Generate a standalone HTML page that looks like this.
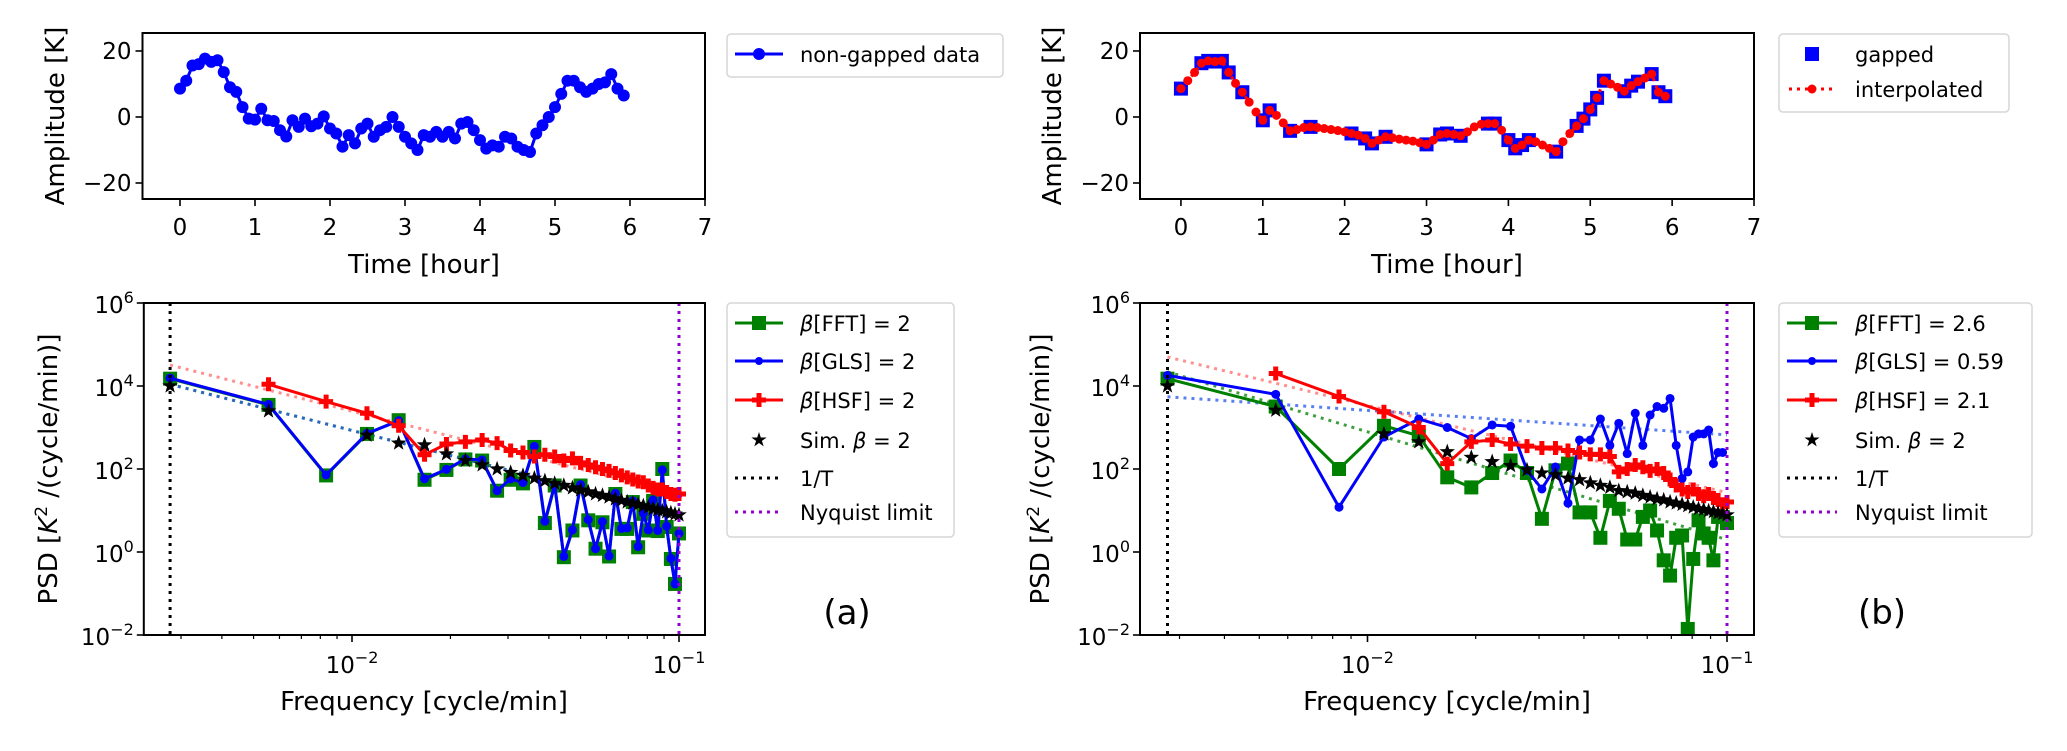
<!DOCTYPE html>
<html><head><meta charset="utf-8"><title>PSD comparison</title>
<style>
html,body{margin:0;padding:0;background:#fff;}
svg{display:block;font-family:"DejaVu Sans","Liberation Sans",sans-serif;}
.tk{font-size:23px;fill:#000;}
.lab{font-size:26px;fill:#000;}
.lg{font-size:21px;fill:#000;}
</style></head>
<body>
<svg id="fig" width="2067" height="751" viewBox="0 0 2067 751" xmlns="http://www.w3.org/2000/svg">
<rect x="0" y="0" width="2067" height="751" fill="#fff"/>
<g id="marks"></g>
<rect x="142.5" y="33" width="562.5" height="166" fill="none" stroke="#000" stroke-width="2"/>
<rect x="1140" y="33" width="614" height="166" fill="none" stroke="#000" stroke-width="2"/>
<rect x="143.8" y="303" width="561.2" height="332" fill="none" stroke="#000" stroke-width="2"/>
<rect x="1140" y="303" width="614" height="332" fill="none" stroke="#000" stroke-width="2"/>
<g id="ticks"></g>
<text class="lab" x="424" y="273" text-anchor="middle">Time [hour]</text>
<text class="lab" x="1447" y="273" text-anchor="middle">Time [hour]</text>
<text class="lab" x="424" y="710" text-anchor="middle">Frequency [cycle/min]</text>
<text class="lab" x="1447" y="710" text-anchor="middle">Frequency [cycle/min]</text>
<text class="lab" transform="translate(64,116) rotate(-90)" text-anchor="middle">Amplitude [K]</text>
<text class="lab" transform="translate(1061,116) rotate(-90)" text-anchor="middle">Amplitude [K]</text>
<text class="lab" transform="translate(57,469) rotate(-90)" text-anchor="middle">PSD [<tspan font-style="italic">K</tspan><tspan font-size="17" dy="-10">2</tspan><tspan dy="10"> /(cycle/min)]</tspan></text>
<text class="lab" transform="translate(1049,469) rotate(-90)" text-anchor="middle">PSD [<tspan font-style="italic">K</tspan><tspan font-size="17" dy="-10">2</tspan><tspan dy="10"> /(cycle/min)]</tspan></text>
<text x="847" y="624" font-size="34" text-anchor="middle">(a)</text>
<text x="1882" y="624" font-size="34" text-anchor="middle">(b)</text>

<g>
<rect x="727" y="34" width="276" height="43" rx="4" fill="#fff" stroke="#d6d6d6" stroke-width="1.5"/>
<g>
<line x1="735" y1="54" x2="783" y2="54" stroke="#0000ff" stroke-width="3"/><circle cx="759" cy="54" r="6" fill="#0000ff"/>
<text class="lg" x="800" y="62">non-gapped data</text></g>
</g>
<g>
<rect x="1779" y="34" width="230" height="78" rx="4" fill="#fff" stroke="#d6d6d6" stroke-width="1.5"/>
<g><rect x="1805" y="47" width="14" height="14" fill="#0000ff"/><text class="lg" x="1855" y="62">gapped</text></g>
<g><line x1="1789" y1="89" x2="1835" y2="89" stroke="#ff0000" stroke-width="3" stroke-dasharray="3 5"/><circle cx="1812" cy="89" r="4.5" fill="#ff0000"/><text class="lg" x="1855" y="97">interpolated</text></g>
</g>
<g>
<rect x="727" y="303" width="227" height="234" rx="4" fill="#fff" stroke="#d6d6d6" stroke-width="1.5"/>
<g><line x1="735" y1="323" x2="783" y2="323" stroke="#008000" stroke-width="3"/><rect x="752" y="316" width="14" height="14" fill="#008000"/><text class="lg" x="800" y="331"><tspan font-style="italic">β</tspan>[FFT] = 2</text></g>
<g><line x1="735" y1="361" x2="783" y2="361" stroke="#0000ff" stroke-width="3"/><circle cx="759" cy="361" r="4" fill="#0000ff"/><text class="lg" x="800" y="369"><tspan font-style="italic">β</tspan>[GLS] = 2</text></g>
<g><line x1="735" y1="400" x2="783" y2="400" stroke="#ff0000" stroke-width="3"/><path d="M756.5,393h5v4.5h4.5v5h-4.5v4.5h-5v-4.5h-4.5v-5h4.5z" fill="#ff0000"/><text class="lg" x="800" y="408"><tspan font-style="italic">β</tspan>[HSF] = 2</text></g>
<g><path d="M759,432 L760.8,437.5 L766.6,437.5 L761.9,440.9 L763.7,446.4 L759,443 L754.3,446.4 L756.1,440.9 L751.4,437.5 L757.2,437.5Z" fill="#000"/><text class="lg" x="800" y="448">Sim. <tspan font-style="italic">β</tspan> = 2</text></g>
<g><line x1="735" y1="478" x2="783" y2="478" stroke="#000" stroke-width="3" stroke-dasharray="3 5"/><text class="lg" x="800" y="486">1/T</text></g>
<g><line x1="735" y1="512" x2="783" y2="512" stroke="#9400d3" stroke-width="3" stroke-dasharray="3 5"/><text class="lg" x="800" y="520">Nyquist limit</text></g>
</g>
<g>
<rect x="1779" y="303" width="253" height="234" rx="4" fill="#fff" stroke="#d6d6d6" stroke-width="1.5"/>
<g><line x1="1787" y1="323" x2="1837" y2="323" stroke="#008000" stroke-width="3"/><rect x="1805" y="316" width="14" height="14" fill="#008000"/><text class="lg" x="1855" y="331"><tspan font-style="italic">β</tspan>[FFT] = 2.6</text></g>
<g><line x1="1787" y1="361" x2="1837" y2="361" stroke="#0000ff" stroke-width="3"/><circle cx="1812" cy="361" r="4" fill="#0000ff"/><text class="lg" x="1855" y="369"><tspan font-style="italic">β</tspan>[GLS] = 0.59</text></g>
<g><line x1="1787" y1="400" x2="1837" y2="400" stroke="#ff0000" stroke-width="3"/><path d="M1809.5,393h5v4.5h4.5v5h-4.5v4.5h-5v-4.5h-4.5v-5h4.5z" fill="#ff0000"/><text class="lg" x="1855" y="408"><tspan font-style="italic">β</tspan>[HSF] = 2.1</text></g>
<g><path d="M1812,432 L1813.8,437.5 L1819.6,437.5 L1814.9,440.9 L1816.7,446.4 L1812,443 L1807.3,446.4 L1809.1,440.9 L1804.4,437.5 L1810.2,437.5Z" fill="#000"/><text class="lg" x="1855" y="448">Sim. <tspan font-style="italic">β</tspan> = 2</text></g>
<g><line x1="1787" y1="478" x2="1837" y2="478" stroke="#000" stroke-width="3" stroke-dasharray="3 5"/><text class="lg" x="1855" y="486">1/T</text></g>
<g><line x1="1787" y1="512" x2="1837" y2="512" stroke="#9400d3" stroke-width="3" stroke-dasharray="3 5"/><text class="lg" x="1855" y="520">Nyquist limit</text></g>
</g>
</svg>
<script>
// ---------- data ----------
const sampleMinutes = 5;
const ampNonGapped = [8.6,11,15.6,16,17.7,16.7,17.2,13.6,9,7.6,3,-0.5,-0.8,2.5,-1,-1.2,-4,-5.9,-1,-3,-0.5,-2.8,-2,0.2,-3.5,-5,-9,-5.5,-8,-3.5,-2,-6,-4,-3,0,-3,-6,-8,-10,-5.5,-6,-4.5,-6,-4.5,-6.5,-2,-1.5,-4,-7,-9.6,-8.6,-9,-6,-6.5,-9,-10,-10.6,-5,-2.5,0,3,7,11,11,9,7.6,8.6,10,10.5,13,8.6,6.5];
const ampGapped = [8.6,null,null,16.3,17,16.8,17,13.5,null,7.5,null,null,-1,2,null,null,-4.2,null,null,-3,null,null,null,null,null,-5,null,-6.5,-8,null,-6,null,null,null,null,null,-8.3,null,-5.3,-5,null,-5.7,null,null,null,-2,-2,null,-7,-9.5,-8.5,-7,null,null,null,-10.5,null,null,-2.7,-0.5,2.3,5.8,11,null,null,7.8,9.5,10.7,null,13,7.5,6.3];
const ampInterp = [8.6,11,13.5,16.3,17,16.8,17,13.5,10.2,7.5,4.5,1.5,-1,2,0.5,-1.8,-4.2,-3.8,-3.2,-3,-3.2,-3.5,-3.8,-4.1,-4.5,-5,-5.5,-6.5,-8,-7,-6,-6.3,-6.7,-7,-7.3,-7.8,-8.3,-7,-5.3,-5,-5.3,-5.7,-4.5,-3,-2.2,-2,-2,-4,-7,-9.5,-8.5,-7,-7.5,-8.5,-9.5,-10.5,-7.5,-5,-2.7,-0.5,2.3,5.8,11,10,9,7.8,9.5,10.7,11.8,13,7.5,6.3];
const timeTicks = [0,1,2,3,4,5,6,7];
const ampTicks = [-20,0,20];

const periodMinutes = 360;
const harmonic = [1,2,3,4,5,6,7,8,9,10,11,12,13,14,15,16,17,18,19,20,21,22,23,24,25,26,27,28,29,30,31,32,33,34,35,36];
const fftA = [15000,3500,70,700,1500,55,95,170,160,30,55,45,340,5,40,0.75,3.3,40,5.8,1.2,5.2,0.78,25,3.6,3.6,16,1.3,8.3,3.3,17,3.2,100,4,0.68,0.17,2.8];
const glsA = [15500,3600,72,720,1450,58,98,175,165,30,58,47,350,5.5,42,0.78,3.4,42,6,1.2,5.4,0.8,26,3.7,3.8,17,1.35,8.6,3.4,18,3.3,95,4.2,0.7,0.17,2.8];
const hsfA = [null,11000,4200,2200,1100,220,400,450,500,420,280,250,200,220,200,160,180,140,125,110,100,90,80,70,63,56,50,48,40,35,32,32,28,25,24,25];
const simA = [10000,2500,null,650,420,380,230,160,125,100,82,70,60,52,45,40,35,31,28,25,23,21,19,17.5,16,15,14,13,12,11,10.4,9.8,9.2,8.7,8.2,7.8];
const fftB = [15000,3200,100,1100,630,63,36,80,160,80,6.3,93,135,9,9,2.2,17,11,2,2,7,10,3.3,0.63,0.27,2.2,2.5,0.014,0.68,5.8,2.8,2.2,0.63,7,7,5];
const glsB = [18000,6300,12,590,1600,1000,540,1150,1070,93,33,112,15,500,500,1600,370,1260,234,2200,370,2000,3200,2900,5000,370,59,85,590,700,700,870,135,250,250,null];
const hsfB = [null,20000,5600,2400,1000,135,450,500,400,355,320,320,280,250,225,225,200,85,100,125,110,90,100,80,56,40,32,28,32,25,22,25,20,18,14,16];
const simB = [10000,2600,null,700,450,260,190,150,120,95,80,72,60,55,46,40,36,30,28,26,23,21,19,18,16,15,14,13,12,11,10.5,9.8,9.3,8.7,8.3,7.8];
const fitAmpA = [11000,11000,32000];
const fitBetaA = [2,2,2];
const fitAmpB = [22000,5500,50000];
const fitBetaB = [2.6,0.59,2.1];
const psdTicks = [-2,0,2,4,6];
const freqDecades = [-2,-1];
const minorMult = [2,3,4,5,6,7,8,9];

// ---------- setup ----------
const NS = 'http://www.w3.org/2000/svg';
const marks = document.getElementById('marks');
const tickG = document.getElementById('ticks');
function mk(tag, attrs, parent) {
  const e = document.createElementNS(NS, tag);
  for (const k in attrs) e.setAttribute(k, attrs[k]);
  (parent || marks).appendChild(e);
  return e;
}
function linAxis(d0, d1, p0, p1) { return v => p0 + (v - d0) / (d1 - d0) * (p1 - p0); }
function logAxis(d0, d1, p0, p1) { return v => p0 + (Math.log10(v) - d0) / (d1 - d0) * (p1 - p0); }

const axTA = {x: linAxis(-0.5, 7, 142.5, 705), y: linAxis(25.45, -24.85, 33, 199), x0:142.5, x1:705, y0:33, y1:199};
const axTB = {x: linAxis(-0.5, 7, 1140, 1754), y: linAxis(25.45, -24.85, 33, 199), x0:1140, x1:1754, y0:33, y1:199};
const axBA = {x: logAxis(-2.6367, -0.9205, 143.8, 705), y: logAxis(6, -2, 303, 635), x0:143.8, x1:705, y0:303, y1:635};
const axBB = {x: logAxis(-2.6328, -0.9249, 1140, 1754), y: logAxis(6, -2, 303, 635), x0:1140, x1:1754, y0:303, y1:635};

function clipFor(ax, id) {
  const cp = mk('clipPath', {id: id});
  mk('rect', {x: ax.x0, y: ax.y0, width: ax.x1 - ax.x0, height: ax.y1 - ax.y0}, cp);
  return 'url(#' + id + ')';
}
function polyPts(xs, ys, ax) {
  const pts = [];
  for (let i = 0; i < xs.length; i++) if (ys[i] !== null && ys[i] !== undefined) pts.push(ax.x(xs[i]).toFixed(1) + ',' + ax.y(ys[i]).toFixed(1));
  return pts.join(' ');
}
function square(g, cx, cy, s, fill) { return mk('rect', {x: cx - s/2, y: cy - s/2, width: s, height: s, fill: fill}, g); }
function plusP(g, cx, cy, fill) {
  const a = 2.5, b = 7;
  return mk('path', {d: `M${cx-a},${cy-b}h${2*a}v${b-a}h${b-a}v${2*a}h${-(b-a)}v${b-a}h${-2*a}v${-(b-a)}h${-(b-a)}v${-2*a}h${b-a}z`, fill: fill}, g);
}
function star(g, cx, cy, fill) {
  const pts = [];
  for (let i = 0; i < 10; i++) {
    const r = i % 2 ? 3.3 : 8.2, an = -Math.PI/2 + i * Math.PI / 5;
    pts.push((cx + r*Math.cos(an)).toFixed(1) + ',' + (cy + r*Math.sin(an)).toFixed(1));
  }
  return mk('polygon', {points: pts.join(' '), fill: fill}, g);
}

// ---------- top panel (a) ----------
const timeA = ampNonGapped.map((v, i) => i * sampleMinutes / 60);
const cTA = clipFor(axTA, 'clipTA');
const gTA = mk('g', {'clip-path': cTA});


mk('polyline', {points: polyPts(timeA, ampNonGapped, axTA), fill: 'none', stroke: '#0000ff', 'stroke-width': 3}, gTA);
ampNonGapped.forEach((v, i) => {
  const c = mk('circle', {cx: axTA.x(timeA[i]), cy: axTA.y(v), r: 6, fill: '#0000ff'}, gTA);
  
  
});

// ---------- top panel (b) ----------
const timeB = ampInterp.map((v, i) => i * sampleMinutes / 60);
const cTB = clipFor(axTB, 'clipTB');
const gTBg = mk('g', {'clip-path': cTB});


ampGapped.forEach((v, i) => {
  if (v === null) return;
  const s = square(gTBg, axTB.x(timeB[i]), axTB.y(v), 14, '#0000ff');
  
  
});
const gTBi = mk('g', {'clip-path': cTB});


mk('polyline', {points: polyPts(timeB, ampInterp, axTB), fill: 'none', stroke: '#ff0000', 'stroke-width': 3, 'stroke-dasharray': '3 5'}, gTBi);
ampInterp.forEach((v, i) => {
  const c = mk('circle', {cx: axTB.x(timeB[i]), cy: axTB.y(v), r: 4.5, fill: '#ff0000'}, gTBi);
  
  
});

// ---------- PSD panels ----------
const freq = harmonic.map(k => k / periodMinutes);
const fMin = 1 / periodMinutes, fNyq = 1 / (2 * sampleMinutes);
function psdPanel(ax, id, fft, gls, hsf, sim, fitAmp, fitBeta, suffix) {
  const cp = clipFor(ax, id);
  const g = mk('g', {'clip-path': cp});
  
  
  const fitCols = ['#008000', '#2255ee', '#ff3333'];
  const fitNames = ['fft', 'gls', 'hsf'];
  fitAmp.forEach((a, j) => {
    const l = mk('line', {x1: ax.x(fMin), y1: ax.y(a), x2: ax.x(fNyq), y2: ax.y(a * Math.pow(fNyq / fMin, -fitBeta[j])), stroke: fitCols[j], 'stroke-width': 3, 'stroke-dasharray': '3 5', opacity: j === 2 ? 0.55 : 0.75}, g);
    
    
  });
  const gF = mk('g', {}, g);
  
  
  mk('polyline', {points: polyPts(freq, fft, ax), fill: 'none', stroke: '#008000', 'stroke-width': 3}, gF);
  fft.forEach((v, i) => {
    if (v === null) return;
    const s = square(gF, ax.x(freq[i]), ax.y(v), 14, '#008000');
    
    
  });
  const gG = mk('g', {}, g);
  
  
  mk('polyline', {points: polyPts(freq, gls, ax), fill: 'none', stroke: '#0000ff', 'stroke-width': 3}, gG);
  gls.forEach((v, i) => {
    if (v === null) return;
    const c = mk('circle', {cx: ax.x(freq[i]), cy: ax.y(v), r: 4.5, fill: '#0000ff'}, gG);
    
    
  });
  const gH = mk('g', {}, g);
  
  
  mk('polyline', {points: polyPts(freq, hsf, ax), fill: 'none', stroke: '#ff0000', 'stroke-width': 3}, gH);
  hsf.forEach((v, i) => {
    if (v === null) return;
    const p = plusP(gH, ax.x(freq[i]), ax.y(v), '#ff0000');
    
    
  });
  const gS = mk('g', {}, g);
  
  
  sim.forEach((v, i) => {
    if (v === null) return;
    const s = star(gS, ax.x(freq[i]), ax.y(v), '#000');
    
    
  });
  const vt = mk('line', {x1: ax.x(fMin), y1: ax.y0, x2: ax.x(fMin), y2: ax.y1, stroke: '#000', 'stroke-width': 3, 'stroke-dasharray': '3 5'}, g);
  
  
  const vn = mk('line', {x1: ax.x(fNyq), y1: ax.y0, x2: ax.x(fNyq), y2: ax.y1, stroke: '#9400d3', 'stroke-width': 3, 'stroke-dasharray': '3 5'}, g);
  
  
}
psdPanel(axBA, 'clipBA', fftA, glsA, hsfA, simA, fitAmpA, fitBetaA, 'a');
psdPanel(axBB, 'clipBB', fftB, glsB, hsfB, simB, fitAmpB, fitBetaB, 'b');

// ---------- ticks ----------
function tline(x1, y1, x2, y2, w) { return mk('line', {x1: x1, y1: y1, x2: x2, y2: y2, stroke: '#000', 'stroke-width': w || 1.6}, tickG); }
function ttext(x, y, s, anchor) {
  const t = mk('text', {x: x, y: y, 'text-anchor': anchor, class: 'tk'}, tickG);
  t.textContent = s;
  return t;
}
[axTA, axTB].forEach((ax, j) => {
  timeTicks.forEach(v => {
    tline(ax.x(v), ax.y1, ax.x(v), ax.y1 + 7);
    const t = ttext(ax.x(v), ax.y1 + 36, String(v), 'middle');
    
    
  });
  ampTicks.forEach(v => {
    tline(ax.x0 - 7, ax.y(v), ax.x0, ax.y(v));
    const t = ttext(ax.x0 - 11, ax.y(v) + 8, String(v).replace('-', '\u2212'), 'end');
    
    
  });
});
function powLabel(x, y, e, anchor) {
  const t = mk('text', {x: x, y: y, 'text-anchor': anchor, class: 'tk'}, tickG);
  const a = document.createElementNS(NS, 'tspan'); a.textContent = '10'; t.appendChild(a);
  const b = document.createElementNS(NS, 'tspan'); b.setAttribute('dy', '-10'); b.setAttribute('font-size', '16'); b.textContent = String(e).replace('-', '\u2212'); t.appendChild(b);
  return t;
}
[axBA, axBB].forEach(ax => {
  psdTicks.forEach(e => {
    const y = ax.y(Math.pow(10, e));
    tline(ax.x0 - 7, y, ax.x0, y);
    const t = powLabel(ax.x0 - 10, y + 10, e, 'end');
    
    
  });
  freqDecades.forEach(e => {
    const x = ax.x(Math.pow(10, e));
    tline(x, ax.y1, x, ax.y1 + 7);
    const t = powLabel(x, ax.y1 + 38, e, 'middle');
    
    
  });
  [-3, -2].forEach(e => minorMult.forEach(m => {
    const f = m * Math.pow(10, e);
    const x = ax.x(f);
    if (x > ax.x0 && x < ax.x1) tline(x, ax.y1, x, ax.y1 + 4, 1.2);
  }));
});
</script>
</body></html>
